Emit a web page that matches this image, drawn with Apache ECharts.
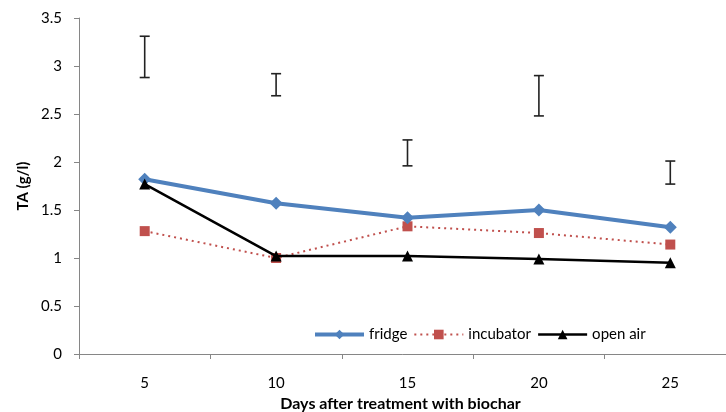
<!DOCTYPE html>
<html>
<head>
<meta charset="utf-8">
<script src="https://cdn.jsdelivr.net/npm/echarts@6/dist/echarts.min.js"></script>
<style>
  html, body { margin: 0; padding: 0; background: #fff; }
  #chart { width: 726px; height: 412px; }
</style>
</head>
<body>
<div id="chart"></div>
<script>
// days after treatment
var days = ['5', '10', '15', '20', '25'];
// TA (g/l) per storage condition
var fridge = [1.82, 1.57, 1.42, 1.50, 1.32];
var incubator = [1.28, 1.00, 1.33, 1.26, 1.14];
var openAir = [1.77, 1.02, 1.02, 0.99, 0.95];
// floating error bars (low / high)
var errLow = [2.88, 2.69, 1.96, 2.48, 1.77];
var errHigh = [3.31, 2.92, 2.23, 2.90, 2.01];
var yTicks = ['0', '0.5', '1', '1.5', '2', '2.5', '3', '3.5'];

var font = 'Lato, "Open Sans", sans-serif';
var chart = echarts.init(document.getElementById('chart'));

var errData = days.map(function (d, i) { return [i, errLow[i], errHigh[i]]; });

chart.setOption({
  animation: false,
  grid: { left: 79, top: 18, width: 657, height: 336, containLabel: false, outerBoundsMode: 'none' },
  legend: {
    left: 313,
    top: 327,
    padding: 0,
    itemWidth: 49,
    itemHeight: 12,
    itemGap: 6,
    textStyle: { fontFamily: font, fontSize: 15, color: '#000' },
    data: [
      { name: 'fridge', lineStyle: { width: 4 } },
      { name: 'incubator', lineStyle: { width: 2 } },
      { name: 'open air', lineStyle: { width: 2.5 } }
    ]
  },
  xAxis: {
    type: 'category',
    data: days,
    boundaryGap: true,
    name: 'Days after treatment with biochar',
    nameLocation: 'middle',
    nameGap: 42,
    nameTextStyle: { fontFamily: font, fontSize: 16, fontWeight: 'bold', color: '#000', padding: [0, 0, 0, -14] },
    axisLine: { lineStyle: { color: '#868686', width: 1 } },
    axisTick: { show: true, alignWithLabel: false, length: 5, inside: false, lineStyle: { color: '#868686' } },
    axisLabel: { fontFamily: font, fontSize: 15, color: '#000', margin: 22 },
    splitLine: { show: false }
  },
  yAxis: {
    type: 'value',
    min: 0,
    max: 3.5,
    interval: 0.5,
    name: 'TA (g/l)',
    nameLocation: 'middle',
    nameRotate: 90,
    nameGap: 45,
    nameTextStyle: { fontFamily: font, fontSize: 15, fontWeight: 'bold', color: '#000' },
    axisLine: { show: true, lineStyle: { color: '#868686', width: 1 } },
    axisTick: { show: true, length: 5, lineStyle: { color: '#868686' } },
    axisLabel: {
      fontFamily: font, fontSize: 15, color: '#000', margin: 17,
      formatter: function (v) { return yTicks[Math.round(v / 0.5)]; }
    },
    splitLine: { show: false }
  },
  series: [
    {
      name: 'fridge',
      type: 'line',
      data: fridge,
      symbol: 'diamond',
      symbolSize: 13,
      lineStyle: { color: '#4F81BD', width: 4 },
      itemStyle: { color: '#4F81BD' },
      z: 3
    },
    {
      name: 'incubator',
      type: 'line',
      data: incubator,
      symbol: 'rect',
      symbolSize: 10,
      lineStyle: { color: '#C0504D', width: 2, type: [2, 4] },
      itemStyle: { color: '#C0504D' },
      z: 2
    },
    {
      name: 'open air',
      type: 'line',
      data: openAir,
      symbol: 'triangle',
      symbolSize: 11,
      lineStyle: { color: '#000', width: 2.5 },
      itemStyle: { color: '#000' },
      z: 4
    },
    {
      name: 'error',
      type: 'custom',
      data: errData,
      encode: { x: 0, y: [1, 2] },
      renderItem: function (params, api) {
        var x = api.value(0);
        var lo = api.coord([x, api.value(1)]);
        var hi = api.coord([x, api.value(2)]);
        var w = 5;
        var st = { stroke: '#222', lineWidth: 1.6 };
        return {
          type: 'group',
          children: [
            { type: 'line', shape: { x1: lo[0], y1: lo[1], x2: hi[0], y2: hi[1] }, style: st },
            { type: 'line', shape: { x1: lo[0] - w, y1: lo[1], x2: lo[0] + w, y2: lo[1] }, style: st },
            { type: 'line', shape: { x1: hi[0] - w, y1: hi[1], x2: hi[0] + w, y2: hi[1] }, style: st }
          ]
        };
      },
      z: 5
    }
  ]
});
</script>
</body>
</html>
